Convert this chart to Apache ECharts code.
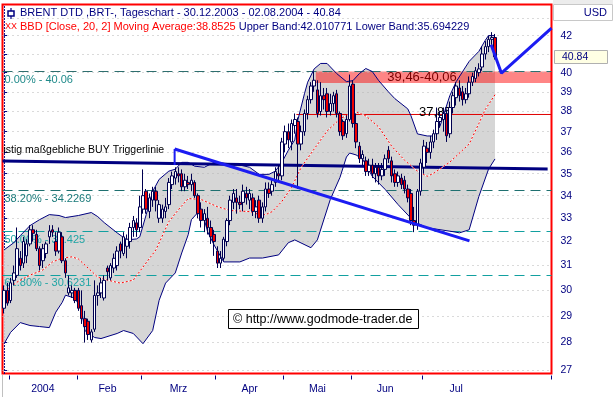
<!DOCTYPE html>
<html><head><meta charset="utf-8">
<script src="https://cdn.jsdelivr.net/npm/echarts@6/dist/echarts.min.js"></script>
<style>html,body{margin:0;padding:0;background:#fff}#c{width:613px;height:397px}</style>
</head><body><div id="c"></div>
<script>
// ---------- calendar (trading days, incl. future slots for the projection) ----------
const holidays = ['2004-01-01', '2004-04-09'];
const firstDay = '2003-12-30';
const lastAxisDay = '2004-08-25';
function tradingDays(s, e) {
  const out = []; const d = new Date(s + 'T00:00:00Z'); const end = new Date(e + 'T00:00:00Z');
  while (d <= end) {
    const wd = d.getUTCDay(); const iso = d.toISOString().slice(0, 10);
    if (wd !== 0 && wd !== 6 && !holidays.includes(iso)) out.push(iso);
    d.setUTCDate(d.getUTCDate() + 1);
  }
  return out;
}
const dates = tradingDays(firstDay, lastAxisDay);

// ---------- month ticks / labels ----------
const monthNames = ['2004', 'Feb', 'Mrz', 'Apr', 'Mai', 'Jun', 'Jul'];
const monthLabelIdx = [12, 32, 54, 76, 97, 118, 140];

// ---------- OHLC  [open, close, low, high] ----------
const candles = [
  [29.3,30.0,29.1,30.2],[30.0,29.5,29.4,30.3],
  // Jan
  [29.6,30.3,29.5,30.5],[30.4,30.7,30.2,31.0],[30.6,31.7,30.5,32.6],[31.3,31.0,30.8,31.6],[31.1,32.0,30.9,32.2],
  [31.4,31.9,31.1,32.1],[31.9,32.5,31.8,32.7],[32.5,32.35,32.0,32.7],[32.3,31.7,31.6,32.5],[31.7,31.0,30.8,31.8],
  [31.2,31.7,30.9,31.9],[31.5,31.9,31.3,32.0],[32.2,32.45,31.9,32.7],[32.5,32.4,32.2,32.7],[32.0,31.6,31.4,32.4],
  [31.6,32.4,31.5,32.6],[32.2,31.2,31.1,32.4],[31.2,30.7,30.5,31.3],[29.9,30.1,29.8,30.6],[29.9,30.0,29.7,30.2],
  [30.0,29.6,29.5,30.1],
  // Feb
  [30.0,29.3,29.2,30.1],[29.4,28.9,28.7,30.0],[28.9,28.6,28.0,29.2],[28.8,28.3,28.1,28.9],[28.1,28.4,28.0,28.5],
  [28.5,29.8,28.4,30.4],[29.8,29.9,29.4,30.2],[29.9,30.3,29.7,30.5],[29.7,30.4,29.6,30.6],[30.9,30.75,30.4,31.0],
  [30.5,31.0,30.4,31.1],[30.9,31.3,30.7,31.5],[31.0,31.6,30.8,31.8],[31.9,31.6,31.3,32.0],[31.5,32.2,31.4,32.4],
  [31.8,32.1,31.3,32.3],[32.0,32.6,31.7,32.8],[32.6,32.9,32.2,33.1],[32.8,32.5,32.2,33.0],[32.6,33.5,32.4,34.0],
  // Mar
  [33.4,34.0,33.2,35.2],[34.2,33.4,33.2,34.3],[33.3,33.9,33.0,34.1],[33.8,34.2,33.5,34.4],[34.2,33.8,33.3,34.4],
  [33.0,33.6,32.8,33.8],[33.0,33.4,32.8,33.6],[33.3,33.5,33.0,33.9],[33.6,34.6,33.4,34.8],[34.5,34.9,34.3,35.1],
  [34.8,35.1,34.5,35.3],[35.0,34.9,34.6,35.3],[35.0,34.4,34.2,35.2],[34.4,34.7,34.2,35.0],[34.6,34.5,34.3,34.9],
  [34.5,34.7,34.2,35.0],[34.6,34.0,33.9,34.7],[34.0,33.2,33.0,34.1],[33.4,32.9,32.6,33.7],[32.9,33.2,32.4,33.4],
  [33.0,32.6,32.3,33.5],[32.6,32.2,31.9,32.9],[32.3,32.0,31.4,32.5],
  // Apr
  [31.6,31.1,30.9,31.8],[31.1,31.3,30.9,31.6],[31.3,32.1,31.2,32.2],[32.0,32.9,31.8,33.0],[32.9,33.8,32.7,34.0],
  [33.7,34.1,33.4,34.3],[33.9,33.7,33.2,34.3],[33.7,33.6,33.4,34.0],[33.7,34.2,33.3,34.5],[34.1,33.9,33.6,34.4],
  [33.8,34.1,33.4,34.3],[33.9,33.3,33.1,34.1],[33.3,33.5,33.0,33.8],[33.8,33.0,32.8,34.0],[33.0,33.5,32.8,33.7],
  [33.5,34.3,33.3,34.6],[34.3,34.1,33.9,34.6],[34.2,34.5,34.0,34.7],[34.6,35.1,34.4,35.3],[35.0,34.9,34.6,35.4],
  [34.9,36.5,34.7,36.7],
  // May
  [36.4,37.0,36.0,37.3],[37.0,36.6,36.2,37.4],[36.5,37.4,36.1,37.6],[37.3,37.6,36.9,37.9],[37.5,36.4,34.3,37.7],
  [36.4,37.0,36.1,37.3],[37.0,37.9,36.8,38.1],[37.9,38.6,37.6,38.8],[38.6,39.3,38.4,39.5],[39.3,39.6,39.0,40.06],
  [39.1,37.9,37.7,39.6],[38.0,38.8,37.8,39.5],[38.8,38.6,38.1,39.2],[38.9,38.0,37.7,39.2],[38.0,38.4,37.8,38.9],
  [38.4,38.8,38.0,39.0],[38.9,37.9,37.7,39.1],[37.9,37.0,36.8,38.0],[37.5,36.8,36.6,37.6],[36.9,37.6,36.7,37.8],
  [37.6,39.3,37.5,39.9],
  // Jun
  [39.4,37.4,37.2,39.6],[37.4,36.5,36.2,37.9],[36.3,35.7,35.5,36.5],[35.7,35.9,35.4,36.1],[35.6,35.1,34.9,35.8],
  [35.1,35.4,34.9,35.7],[35.4,35.0,34.8,35.7],[35.0,35.3,34.6,35.5],[35.3,34.9,34.5,35.5],[34.9,35.2,34.7,35.5],
  [35.2,35.7,34.9,35.9],[36.1,35.7,35.5,36.3],[35.6,34.9,34.6,35.8],[35.0,34.6,34.4,35.2],[34.6,34.9,34.4,35.1],
  [34.8,34.5,34.3,35.0],[34.7,34.3,34.1,34.9],[34.3,33.9,33.7,34.5],[34.1,32.9,32.7,34.3],[32.9,32.7,32.4,33.5],
  [32.7,34.2,32.5,34.3],[34.2,35.5,34.0,35.7],
  // Jul
  [35.3,36.3,35.0,36.6],[36.2,36.0,35.5,36.5],[36.0,36.5,35.7,36.8],[36.5,36.9,36.2,37.1],[36.9,37.5,36.6,38.2],
  [37.5,37.7,37.2,38.0],[37.6,37.9,37.0,38.2],[37.9,36.8,36.5,38.1],[36.9,38.2,36.7,38.5],[38.2,38.8,37.9,39.0],
  [38.7,39.3,38.3,39.5],[39.2,38.8,38.5,39.6],[39.0,38.6,38.3,39.3],[38.6,38.9,38.4,39.2],[38.9,39.5,38.7,39.8],
  [39.5,39.8,39.3,40.0],[39.7,40.1,39.5,40.3],[40.0,40.2,39.8,40.5],[40.3,41.0,40.1,41.4],[41.0,41.4,40.7,41.7],
  [41.4,41.8,41.1,42.0],[41.8,41.9,41.5,42.2],
  // Aug 2
  [41.9,40.84,40.7,42.1]
];

// ---------- Bollinger bands (20, 2), read at [trading-day index, price] ----------
const upperBand = [[0,31.65],[3,31.95],[5,32.25],[8,32.68],[11,32.94],[14,33.16],[17,33.12],[19,33.03],[23,33.12],
  [27,33.25],[29,33.07],[31,32.81],[35,32.37],[38,32.07],[41,32.11],[42,32.2],[44,33.16],[46,34.19],[48,34.74],
  [51,35.12],[53,35.21],[55,35.53],[57,35.53],[59,35.35],[62,35.30],[65,35.53],[72,35.44],[76,35.30],[79,34.97],
  [82,34.97],[84,35.12],[86,35.53],[88,36.1],[90,36.6],[91,37.6],[93,38.9],[94,39.5],[96,40.2],[98,40.49],
  [100,40.49],[103,39.95],[106,39.53],[108,39.58],[110,39.95],[112,40.22],[114,40.06],[116,39.58],[119,39.00],
  [121,38.65],[125,38.13],[126,37.78],[128,36.89],[131,36.79],[133,36.79],[135,37.28],[138,38.80],[140,39.53],
  [144,40.60],[147,41.14],[149,41.75],[150,42.01],[152,42.01]];
const lowerBand = [[0,27.96],[2,28.38],[5,28.75],[8,28.64],[11,28.60],[14,28.56],[16,29.15],[18,29.53],[19,29.81],
  [22,29.69],[24,29.22],[25,28.45],[28,28.19],[30,28.15],[35,28.34],[37,28.45],[40,28.34],[43,27.96],[46,28.45],
  [48,29.61],[50,30.29],[53,30.70],[55,31.52],[57,32.29],[58,32.94],[60,33.25],[62,32.94],[63,32.42],[65,31.86],
  [68,31.15],[73,31.15],[76,31.31],[80,31.31],[85,31.44],[88,31.95],[90,32.07],[95,31.74],[97,32.07],[101,33.83],
  [104,34.83],[106,35.78],[107,35.97],[109,35.88],[111,35.68],[114,34.88],[118,34.28],[122,33.60],[127,32.85],
  [131,32.59],[139,32.42],[141,32.37],[144,32.50],[147,33.96],[150,35.21],[152,35.69]];
const middleBand = [[0,29.93],[4,30.33],[8,30.61],[12,30.82],[15,31.15],[18,31.31],[21,31.36],[23,31.27],[26,30.90],
  [29,30.53],[32,30.41],[36,30.29],[40,30.41],[43,30.94],[47,31.65],[51,32.85],[54,33.38],[57,33.87],[61,33.83],
  [66,33.51],[70,33.34],[76,33.29],[79,33.16],[81,33.16],[83,33.29],[86,33.74],[89,34.37],[92,35.30],[96,36.16],
  [100,37.03],[104,37.63],[107,37.88],[109,37.98],[112,37.78],[116,37.23],[120,36.30],[124,35.63],[128,35.12],
  [131,34.88],[133,35.02],[138,35.54],[144,36.4],[147,37.4],[149,38.1],[152,38.85]];

// ---------- annotations ----------
const fibLevels = [40.06, 34.2269, 32.425, 30.6231];
const fibLabels = ['0.00% - 40.06', '38.20% - 34.2269', '50.00% - 32.425', '61.80% - 30.6231'];
const zoneLow = 39.46, zoneHigh = 40.06, zoneStart = 96.5;
const zoneText = '39,46-40,06';
const resistanceLevel = 37.85, resistanceStart = 90.5;
const resistanceText = '37,85';
const buyTrigger = [[-0.5, 35.59], [168.3, 35.22]];
const buyText = 'istig maßgebliche BUY Triggerlinie';
const downTrend = [[52.8, 36.16], [144.1, 32.03]];
const downTrendStub = [[52.8, 35.41], [52.8, 36.16]];
const projection = [[150.8, 41.5], [154.0, 39.97], [169.5, 42.43]];
const priceTicks = [27,28,29,30,31,32,33,34,35,36,37,38,39,40,41,42];
const priceLabels = [27,28,29,30,31,32,33,34,35,36,37,38,39,40,42];
const gridLevels = [27,28,29,30,31,32,33,34,35,36,37,38,39,40,41,42,43];
const titleText = 'BRENT DTD ,BRT-, Tageschart - 30.12.2003 - 02.08.2004 - 40.84';
const bbText = 'BBD [Close, 20, 2] Moving Average:38.8525';
const bandText = ' Upper Band:42.010771 Lower Band:35.694229';
const watermark = '\u00a9 http://www.godmode-trader.de';

// ---------- derived ----------
const monthStarts = [];
dates.forEach((d, i) => { if (i > 0 && d.slice(5, 7) !== dates[i - 1].slice(5, 7) && d < '2004-08-01') monthStarts.push(i); });
const monthLabelAt = {};
monthLabelIdx.forEach((idx, k) => monthLabelAt[idx] = monthNames[k]);
const lastClose = candles[candles.length - 1][1];
const FONT = '"Liberation Sans", Arial, sans-serif';
const NAVY = '#000080';
const X0 = -0.5, X1 = dates.length - 0.5;

const chart = echarts.init(document.getElementById('c'), null, { renderer: 'canvas' });

const lineS = (data, color, width, z, extra) => Object.assign({
  type: 'line', xAxisIndex: 1, yAxisIndex: 0, data, showSymbol: false, symbol: 'none', silent: true, z,
  lineStyle: { color, width }, emphasis: { disabled: true }, animation: false
}, extra || {});

const option = {
  animation: false,
  grid: { left: 2.5, right: 61.5, top: 4.5, bottom: 23.5, show: true, borderColor: '#ff0000', borderWidth: 2, backgroundColor: '#ffffff' },
  xAxis: [
    { type: 'category', data: dates, boundaryGap: true, offset: 2,
      axisLine: { show: false },
      axisTick: { show: true, interval: (i) => monthStarts.includes(i), length: 4, lineStyle: { color: NAVY, width: 1 } },
      axisLabel: { interval: (i) => monthLabelAt[i] !== undefined, formatter: (v, i) => monthLabelAt[i] || '',
        color: NAVY, fontSize: 10.5, fontFamily: FONT, margin: 8 },
      splitLine: { show: false } },
    { type: 'value', min: X0, max: X1, show: false }
  ],
  yAxis: [
    { type: 'log', logBase: 10, min: 26.88, max: 43.77, position: 'right', offset: 4,
      axisLine: { show: true, lineStyle: { color: NAVY, type: [1, 2], width: 1 } },
      axisTick: { show: true, customValues: priceTicks, length: 3, lineStyle: { color: NAVY } },
      axisLabel: { customValues: priceLabels, color: NAVY, fontSize: 10.5, fontFamily: FONT, margin: 5,
        formatter: (v) => String(Math.round(v)) },
      splitLine: { show: false }, minorTick: { show: false } }
  ],
  series: [
    // Bollinger fill
    { type: 'custom', xAxisIndex: 1, yAxisIndex: 0, z: 1, silent: true, data: [[0, 30]],
      renderItem: (params, api) => {
        const pts = upperBand.map(p => api.coord(p)).concat(lowerBand.slice().reverse().map(p => api.coord(p)));
        return { type: 'polygon', shape: { points: pts }, style: { fill: '#d6d6d6' } };
      } },
    // dotted price grid
    { type: 'line', xAxisIndex: 1, yAxisIndex: 0, data: [], z: 2, silent: true,
      markLine: { silent: true, symbol: ['none', 'none'], label: { show: false }, animation: false,
        lineStyle: { color: '#b4b4b4', type: [1, 4], width: 1 },
        data: gridLevels.map(v => ({ yAxis: v })) } },
    // red resistance zone
    { type: 'custom', xAxisIndex: 1, yAxisIndex: 0, z: 3, silent: true, data: [[zoneStart, zoneLow, zoneHigh]],
      renderItem: (params, api) => {
        const a = api.coord([api.value(0), api.value(2)]);
        const b = api.coord([X1, api.value(1)]);
        return { type: 'rect', shape: { x: a[0], y: a[1], width: b[0] - a[0], height: b[1] - a[1] },
          style: { fill: 'rgba(255,0,0,0.48)' } };
      } },
    // Fibonacci levels
    { type: 'line', xAxisIndex: 1, yAxisIndex: 0, data: [], z: 3, silent: true,
      markLine: { silent: true, symbol: ['none', 'none'], animation: false,
        data: fibLevels.map((v, k) => ({ yAxis: v,
          lineStyle: { color: ['#2f6f6f', '#1f7070', '#12a0a0', '#12a0a0'][k], type: [10, 6], width: 1 },
          label: { show: true, position: 'insideStartBottom', distance: [2, 3], formatter: fibLabels[k],
            color: ['#1f8a8a', '#1a7a7a', '#20a5a5', '#20a5a5'][k], fontSize: 11, fontFamily: FONT } })) } },
    // 37.85 line
    lineS([[resistanceStart, resistanceLevel], [X1, resistanceLevel]], '#e00000', 1, 3),
    // BUY trigger line
    lineS(buyTrigger, '#000080', 3, 4),
    // middle band (white underlay + red dots)
    lineS(middleBand, '#ffffff', 1, 5),
    lineS(middleBand, '#ff0000', 1, 5, { lineStyle: { color: '#ff0000', width: 1, type: [2, 2] } }),
    // upper/lower band lines
    lineS(upperBand, '#000080', 1, 5),
    lineS(lowerBand, '#000080', 1, 5),
    // candles
    { type: 'candlestick', xAxisIndex: 0, yAxisIndex: 0, z: 6, silent: true, barWidth: 3,
      data: candles,
      itemStyle: { color: '#ffffff', color0: '#ee0000', borderColor: '#000050', borderColor0: '#000050', borderWidth: 1 } },
    // trend lines
    lineS(downTrend, '#1c1cf2', 3, 7),
    lineS(downTrendStub, '#1c1cf2', 2, 7),
    lineS(projection, '#1c1cf2', 3, 7)
  ]
};
chart.setOption(option);

const P = (x, y) => chart.convertToPixel({ xAxisIndex: 1, yAxisIndex: 0 }, [x, y]);
const lastY = chart.convertToPixel({ yAxisIndex: 0 }, lastClose);
const buyP = P(buyTrigger[0][0], buyTrigger[0][1]);
const zoneP = P(129.4, Math.sqrt(zoneLow * zoneHigh));
const resP = P(133.5, resistanceLevel);

chart.setOption({
  graphic: [
    // header icons & text
    { type: 'line', z: 100, shape: { x1: 11, y1: 8, x2: 11, y2: 19 }, style: { stroke: NAVY, lineWidth: 1.2 } },
    { type: 'rect', z: 100, shape: { x: 8, y: 11, width: 6, height: 5 }, style: { fill: '#fff', stroke: NAVY, lineWidth: 1.5 } },
    { type: 'text', z: 100, x: 20, y: 13, style: { text: titleText, fill: NAVY, font: '11px ' + FONT, textVerticalAlign: 'middle' } },
    { type: 'text', z: 100, x: 5, y: 27, style: { text: 'XX', fill: '#ff0000', font: '9px ' + FONT, textVerticalAlign: 'middle' } },
    { type: 'text', z: 100, x: 20, y: 27, style: { text: '{r|' + bbText + '}{b|' + bandText + '}', font: '11px ' + FONT,
        textVerticalAlign: 'middle', rich: { r: { fill: '#ff0000', font: '11px ' + FONT }, b: { fill: NAVY, font: '11px ' + FONT } } } },
    // USD header
    { type: 'rect', z: 100, shape: { x: 553, y: 0, width: 60, height: 4 }, style: { fill: '#ececec' } },
    { type: 'rect', z: 100, shape: { x: 553.5, y: 4.5, width: 59, height: 16 }, style: { fill: '#fff', stroke: '#c8c8c8', lineWidth: 1 } },
    { type: 'text', z: 101, x: 607, y: 13, style: { text: 'USD', fill: NAVY, font: '11px ' + FONT, textAlign: 'right', textVerticalAlign: 'middle' } },
    // cover for clipped bottom label
    { type: 'rect', z: 100, shape: { x: 553, y: 373, width: 60, height: 24 }, style: { fill: '#fff' } },
    { type: 'line', z: 100, shape: { x1: 2.5, y1: 375, x2: 2.5, y2: 397 }, style: { stroke: '#c0c0c0', lineWidth: 1 } },
    // last price box
    { type: 'rect', z: 100, shape: { x: 554.5, y: Math.round(lastY) - 6.5, width: 53, height: 13 }, style: { fill: '#ffffe4', stroke: '#b0b0b0', lineWidth: 1 } },
    { type: 'text', z: 101, x: 562, y: lastY, style: { text: lastClose.toFixed(2), fill: NAVY, font: '10.5px ' + FONT, textVerticalAlign: 'middle' } },
    // annotation texts
    { type: 'text', z: 100, x: buyP[0] + 1, y: buyP[1] - 11, style: { text: buyText, fill: '#000000', font: '10.5px ' + FONT, textVerticalAlign: 'middle' } },
    { type: 'text', z: 100, x: zoneP[0], y: zoneP[1], style: { text: zoneText, fill: '#7a0000', font: '13px ' + FONT, textAlign: 'center', textVerticalAlign: 'middle' } },
    { type: 'text', z: 5, x: resP[0], y: resP[1] - 2, style: { text: resistanceText, fill: '#000000', font: '13px ' + FONT, textAlign: 'center', textVerticalAlign: 'middle' } },
    // watermark
    { type: 'rect', z: 100, shape: { x: 228.5, y: 309.5, width: 190, height: 19 }, style: { fill: '#fff', stroke: '#000', lineWidth: 1 } },
    { type: 'text', z: 101, x: 233, y: 319.5, style: { text: watermark, fill: '#000', font: '12.5px ' + FONT, textVerticalAlign: 'middle' } }
  ]
});
</script></body></html>
